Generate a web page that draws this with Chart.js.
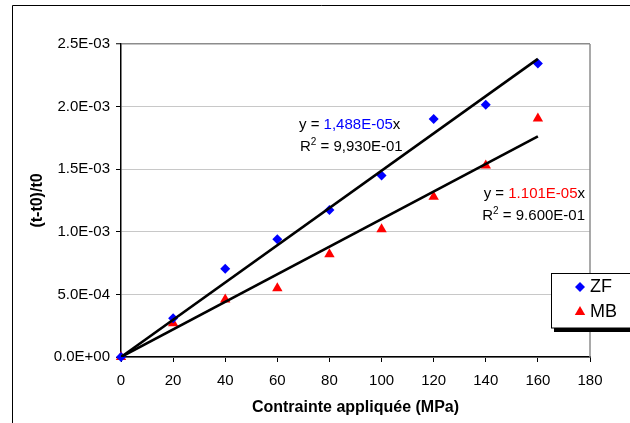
<!DOCTYPE html>
<html>
<head>
<meta charset="utf-8">
<script src="https://cdn.jsdelivr.net/npm/chart.js@4/dist/chart.umd.min.js"></script>
<style>
  html, body { margin: 0; padding: 0; background: #fff; }
  #chart { display: block; }
</style>
</head>
<body>
<canvas id="chart" width="630" height="423"></canvas>
<script>
// Values
const stress = [0, 20, 40, 60, 80, 100, 120, 140, 160];
const zfValues = [0, 3.1e-4, 7.05e-4, 9.4e-4, 1.175e-3, 1.45e-3, 1.9e-3, 2.015e-3, 2.345e-3];
const mbValues = [0, 2.7e-4, 4.6e-4, 5.5e-4, 8.2e-4, 1.02e-3, 1.28e-3, 1.53e-3, 1.905e-3];
const trendX = [0, 160];
const zfTrend = [0, 2.381e-3];
const mbTrend = [0, 1.762e-3];
const xTickLabels = ['0', '20', '40', '60', '80', '100', '120', '140', '160', '180'];
const yTickLabels = ['0.0E+00', '5.0E-04', '1.0E-03', '1.5E-03', '2.0E-03', '2.5E-03'];

const FONT = 'Liberation Sans, Arial, sans-serif';

function pairs(xs, ys) {
    return xs.map((x, i) => ({ x: x, y: ys[i] }));
}

// frame, plot border, equations and legend box
const decorations = {
    id: 'decorations',
    beforeDraw(chart) {
        const ctx = chart.ctx;
        ctx.save();
        ctx.fillStyle = '#fff';
        ctx.fillRect(0, 0, chart.width, chart.height);
        ctx.strokeStyle = '#000';
        ctx.lineWidth = 1;
        ctx.beginPath();
        ctx.moveTo(12.5, 430);
        ctx.lineTo(12.5, 5.5);
        ctx.lineTo(640, 5.5);
        ctx.stroke();
        ctx.restore();
    },
    afterDraw(chart) {
        const ctx = chart.ctx;
        const a = chart.chartArea;
        ctx.save();
        // right border of plot area
        ctx.strokeStyle = '#8c8c8c';
        ctx.lineWidth = 1.5;
        ctx.beginPath();
        ctx.moveTo(a.right, a.top);
        ctx.lineTo(a.right, a.bottom);
        ctx.stroke();

        // equations
        ctx.textBaseline = 'middle';
        function eq(x, y, parts) {
            let cx = x;
            parts.forEach(p => {
                ctx.font = (p.sup ? '10px ' : '15px ') + FONT;
                ctx.fillStyle = p.color || '#000';
                ctx.fillText(p.t, cx, p.sup ? y - 5 : y);
                cx += ctx.measureText(p.t).width;
            });
        }
        function width(parts) {
            let w = 0;
            parts.forEach(p => {
                ctx.font = (p.sup ? '10px ' : '15px ') + FONT;
                w += ctx.measureText(p.t).width;
            });
            return w;
        }
        ctx.textAlign = 'left';
        eq(299, 125, [{ t: 'y = ' }, { t: '1,488E-05', color: '#0000ff' }, { t: 'x' }]);
        eq(300, 147, [{ t: 'R' }, { t: '2', sup: true }, { t: ' = 9,930E-01' }]);
        const mb1 = [{ t: 'y = ' }, { t: '1.101E-05', color: '#ff0000' }, { t: 'x' }];
        const mb2 = [{ t: 'R' }, { t: '2', sup: true }, { t: ' = 9.600E-01' }];
        eq(585 - width(mb1), 194, mb1);
        eq(585 - width(mb2), 216, mb2);

        // legend box with shadow
        ctx.fillStyle = '#000';
        ctx.fillRect(554, 328, 90, 4);
        ctx.fillStyle = '#fff';
        ctx.fillRect(551, 273, 90, 55);
        ctx.strokeStyle = '#000';
        ctx.lineWidth = 1;
        ctx.strokeRect(551.5, 273.5, 90, 54.5);

        const items = [
            { label: 'ZF', ds: chart.data.datasets[2], y: 287 },
            { label: 'MB', ds: chart.data.datasets[3], y: 312 }
        ];
        items.forEach(it => {
            ctx.fillStyle = it.ds.backgroundColor;
            ctx.strokeStyle = it.ds.borderColor;
            Chart.helpers.drawPoint(ctx, {
                pointStyle: it.ds.pointStyle,
                radius: it.ds.pointRadius,
                borderWidth: 0,
                rotation: 0
            }, 580, it.y);
            ctx.fillStyle = '#000';
            ctx.font = '18px ' + FONT;
            ctx.textAlign = 'left';
            ctx.textBaseline = 'middle';
            ctx.fillText(it.label, 590, it.y);
        });
        ctx.restore();
    }
};

const ctx = document.getElementById('chart').getContext('2d');
const chart = new Chart(ctx, {
    type: 'scatter',
    data: {
        datasets: [
            {
                label: 'ZF trend',
                data: pairs(trendX, zfTrend),
                showLine: true,
                borderColor: '#000',
                borderWidth: 2.6,
                pointRadius: 0,
                order: 0
            },
            {
                label: 'MB trend',
                data: pairs(trendX, mbTrend),
                showLine: true,
                borderColor: '#000',
                borderWidth: 2.6,
                pointRadius: 0,
                order: 0
            },
            {
                label: 'ZF',
                data: pairs(stress, zfValues),
                pointStyle: 'rectRot',
                pointRadius: 5,
                backgroundColor: '#0000ff',
                borderColor: '#0000ff',
                borderWidth: 0,
                clip: false,
                order: 1
            },
            {
                label: 'MB',
                data: pairs(stress, mbValues),
                pointStyle: 'triangle',
                pointRadius: 6,
                backgroundColor: '#ff0000',
                borderColor: '#ff0000',
                borderWidth: 0,
                clip: false,
                order: 1
            }
        ]
    },
    options: {
        responsive: false,
        animation: false,
        layout: { padding: { left: 24, top: 44, right: 40, bottom: 2 } },
        plugins: {
            legend: { display: false },
            tooltip: { enabled: false }
        },
        scales: {
            x: {
                type: 'linear',
                min: 0,
                max: 180,
                ticks: {
                    stepSize: 20,
                    padding: 10,
                    color: '#000',
                    font: { family: FONT, size: 15 },
                    callback: (v, i) => xTickLabels[i]
                },
                grid: {
                    drawOnChartArea: false,
                    tickLength: 5,
                    tickColor: '#000'
                },
                border: { color: '#000', width: 1.5 },
                title: {
                    display: true,
                    text: 'Contrainte appliquée (MPa)',
                    color: '#000',
                    font: { family: FONT, size: 16, weight: 'bold' },
                    padding: { top: 4, bottom: 4 }
                },
                afterFit(scale) { scale.height = 64; }
            },
            y: {
                type: 'linear',
                min: 0,
                max: 2.5e-3,
                ticks: {
                    stepSize: 5e-4,
                    padding: 6,
                    color: '#000',
                    font: { family: FONT, size: 15 },
                    callback: (v, i) => yTickLabels[i]
                },
                grid: {
                    color: c => (c.index === yTickLabels.length - 1 ? '#8c8c8c' : '#c8c8c8'),
                    lineWidth: c => (c.index === yTickLabels.length - 1 ? 1.5 : 1),
                    tickLength: 5,
                    tickColor: '#000',
                    tickWidth: 1
                },
                border: { color: '#000', width: 1.5 },
                title: {
                    display: true,
                    text: '(t-t0)/t0',
                    color: '#000',
                    font: { family: FONT, size: 16, weight: 'bold' },
                    padding: { top: 4, bottom: 4 }
                },
                afterFit(scale) { scale.width = 97; }
            }
        }
    },
    plugins: [decorations]
});
</script>
</body>
</html>
